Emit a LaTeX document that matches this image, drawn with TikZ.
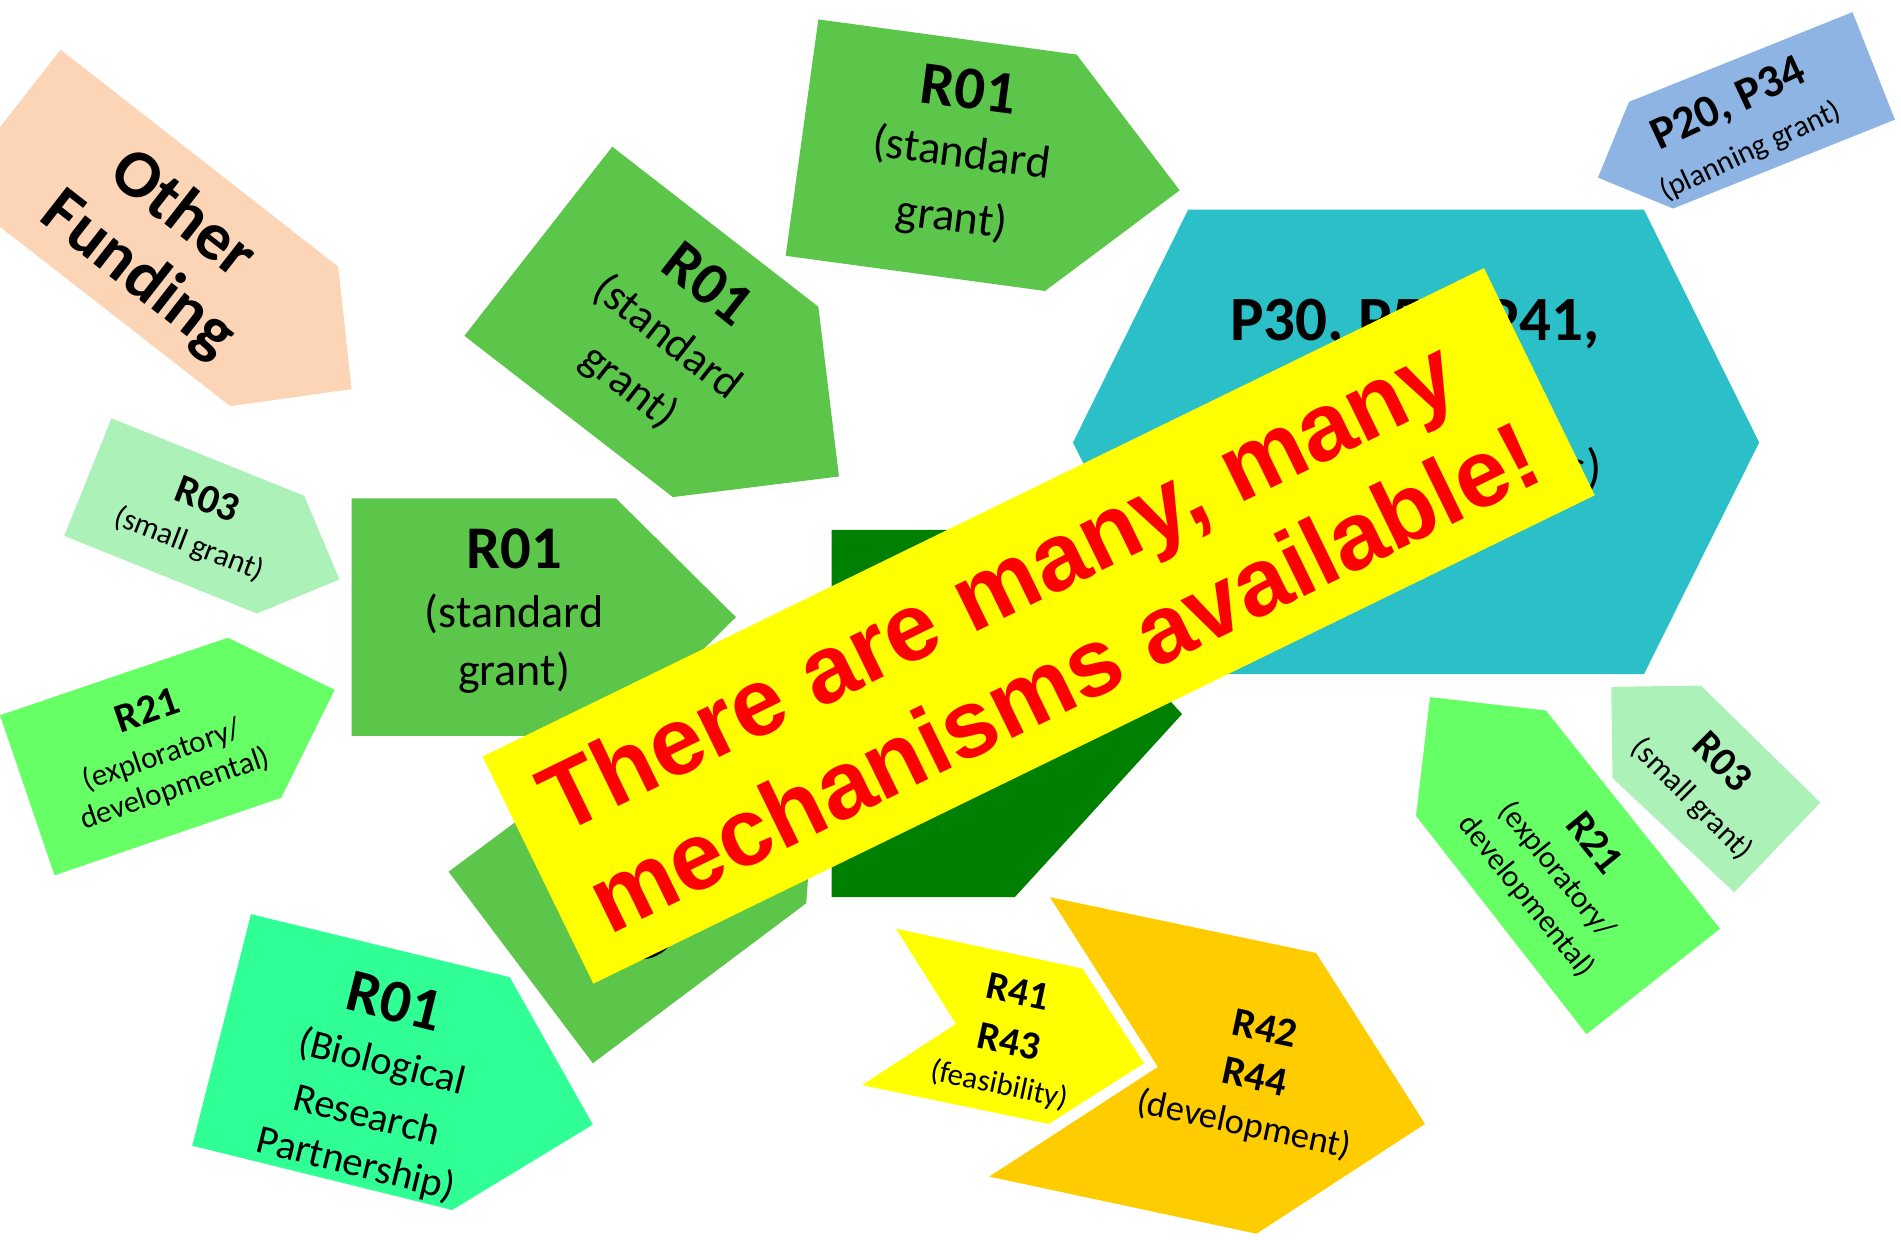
\documentclass[tikz,border=0pt]{standalone}
\usepackage{fontspec}
\setmainfont{Carlito}
\newfontfamily\bannerfont{Liberation Sans}
\newcommand{\ptsize}[1]{\fontsize{#1}{#1}\selectfont}
\definecolor{peach}{HTML}{FBD5B5}
\definecolor{grantgreen}{HTML}{5CC64A}
\definecolor{darkgrant}{HTML}{008000}
\definecolor{centercyan}{HTML}{2BC0C8}
\definecolor{planblue}{HTML}{8EB4E3}
\definecolor{smallgreen}{HTML}{ACF2B8}
\definecolor{explgreen}{HTML}{66FF66}
\definecolor{brpgreen}{HTML}{30FF96}
\definecolor{feasyellow}{HTML}{FFFF00}
\definecolor{devorange}{HTML}{FFCC00}
\begin{document}
\begin{tikzpicture}[x=0.5pt,y=-0.5pt,
  tag/.style={inner sep=0pt, text=black},
  codebig/.style={tag, font=\bfseries\ptsize{25}},
  descbig/.style={tag, font=\ptsize{19}},
  codesmall/.style={tag, font=\bfseries\ptsize{17}},
  descsmall/.style={tag, font=\ptsize{12.8}},
  banner/.style={fill=feasyellow, text=red, align=left, inner sep=0pt,
    font=\bannerfont\bfseries\fontsize{39.5}{46}\selectfont,
    minimum width=459.5pt, minimum height=104.2pt}]
\useasboundingbox (0,0) rectangle (1568,1022);

\begin{scope}
\clip (0,0) rectangle (1568,1022);
% arrow-shaped mechanism patches
\fill[peach] (-40,156) -- (50,41) -- (279,220) -- (290,321) -- (190,335) -- cycle;
\fill[grantgreen] (383,277) -- (505,121) -- (675,253) -- (692,393) -- (555,410) -- cycle;
\fill[grantgreen] (648,211) -- (675,16) -- (888,45) -- (973,157) -- (862,240) -- cycle;
\fill[grantgreen] (290,411) -- (508,411) -- (607,509) -- (508,607) -- (290,607) -- cycle;
\fill[grantgreen] (489,877) -- (370,719) -- (510,615) -- (672,650) -- (665,745) -- cycle;
\fill[darkgrant] (686,437) -- (837,437) -- (975,589) -- (837,740) -- (686,740) -- cycle;
\fill[centercyan] (885,365) -- (980,173) -- (1356,173) -- (1451,365) -- (1356,556) -- (980,556) -- cycle;
\fill[planblue] (1318,146.5) -- (1343.6,84) -- (1528,10) -- (1563,98.7) -- (1380,172) -- cycle;
\fill[smallgreen] (53,442) -- (92,345) -- (251,409) -- (280,478) -- (212,506) -- cycle;
\fill[explgreen] (0,590) -- (188,526) -- (276,569) -- (232,658) -- (45,722) -- cycle;
\fill[brpgreen] (158.6,945) -- (207,754) -- (420.5,806) -- (489,927.6) -- (373,998) -- cycle;
\fill[feasyellow] (739,766) -- (893,799) -- (943.6,877) -- (865,927) -- (711,895) -- (788.5,844.5) -- cycle;
\fill[devorange] (866,740) -- (1085.5,786) -- (1175.4,927) -- (1036.4,1017.6) -- (816,970.5) -- (955,880) -- cycle;
\fill[explgreen] (1179.5,575) -- (1275,586) -- (1418.7,766) -- (1308.6,853) -- (1168,673) -- cycle;
\fill[smallgreen] (1329,566.5) -- (1403,565.5) -- (1501.5,662) -- (1430.4,736) -- (1330,641.7) -- cycle;
\end{scope}

% labels
\node[tag, font=\bfseries\ptsize{28}, rotate=-38] (ofa) at (153,174) {Other};
\node[tag, font=\bfseries\ptsize{28}, rotate=-38] (ofb) at (113.5,227) {Funding};

\node[codebig, rotate=-38] (ba) at (584,234) {R01};
\node[descbig, font=\ptsize{18.5}, rotate=-38] (bb) at (550.5,278) {(standard};
\node[descbig, font=\ptsize{18.5}, rotate=-38] (bc) at (518.7,319) {grant)};

\node[codebig, rotate=-7.5] (ca) at (799,73.6) {R01};
\node[descbig, rotate=-7.5] (cb) at (793,127) {(standard};
\node[descbig, rotate=-7.5] (cc) at (785,180.4) {grant)};

\node[codebig] (da) at (424,452.6) {R01};
\node[descbig] (db) at (424,506) {(standard};
\node[descbig] (dc) at (424,555) {grant)};

\node[codebig, rotate=-14] (ka) at (325.8,826) {R01};
\node[tag, font=\ptsize{16.8}, rotate=-14] (kb) at (314.9,876.8) {(Biological};
\node[tag, font=\ptsize{16.8}, rotate=-14] (kc) at (303,918.8) {Research};
\node[tag, font=\ptsize{16.8}, rotate=-14] (kd) at (293.6,960.6) {Partnership)};

\node[codesmall, rotate=-21] (ia) at (171.5,411.5) {R03};
\node[descsmall, rotate=-21] (ib) at (156,449) {(small grant)};

\node[codesmall, rotate=19] (ja) at (121,585.6) {R21};
\node[descsmall, rotate=19] (jb) at (133.6,623) {(exploratory/};
\node[descsmall, rotate=19] (jc) at (144.5,650.7) {developmental)};

\node[tag, font=\bfseries\ptsize{19}, rotate=25] (ha) at (1426,86.5) {P20, P34};
\node[tag, font=\ptsize{12.5}, rotate=25] (hb) at (1443.8,125) {(planning grant)};

\node[tag, font=\bfseries\ptsize{16.5}, rotate=-12] (la) at (840,818) {R41};
\node[tag, font=\bfseries\ptsize{16.5}, rotate=-12] (lb) at (832,859) {R43};
\node[descsmall, rotate=-12] (lc) at (824,895) {(feasibility)};

\node[codesmall, rotate=-12] (ma) at (1043.4,848) {R42};
\node[codesmall, rotate=-12] (mb) at (1035,888) {R44};
\node[tag, font=\ptsize{15}, rotate=-12] (mc) at (1026,928) {(development)};

\node[codesmall, rotate=-51] (na) at (1315.6,695) {R21};
\node[descsmall, rotate=-51] (nb) at (1284,717.6) {(exploratory/};
\node[descsmall, rotate=-51] (nc) at (1259,739.4) {developmental)};

\node[codesmall, rotate=-45] (oa) at (1421,628) {R03};
\node[descsmall, rotate=-45] (ob) at (1395.5,659.5) {(small grant)};

\node[tag, font=\bfseries\ptsize{26}] (ga) at (1167,267) {P30, P50, P41,};
\node[tag, font=\ptsize{21}] (gc) at (1168,387) {(research centers)};

\node[tag, font=\ptsize{19}, rotate=-64] (fa) at (541,786) {)};

% overlay banner
\node[banner, rotate=26] (banner) at (856.75,516.25) {There are many, many\\mechanisms available!};
\end{tikzpicture}
\end{document}
